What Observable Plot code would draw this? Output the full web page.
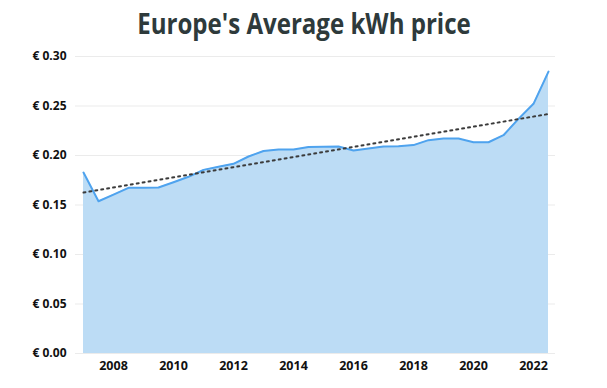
<!DOCTYPE html>
<html>
<head>
<meta charset="utf-8">
<script src="https://cdn.jsdelivr.net/npm/d3@7"></script>
<script src="https://cdn.jsdelivr.net/npm/@observablehq/plot@0.6"></script>
<style>
  html, body { margin: 0; padding: 0; background: #fff; }
  #title { height: 46px; width: 607px; text-align: center; font-family: "Open Sans", sans-serif; font-weight: 700; font-size: 29px; line-height: 46px; color: #2e3a3b; }
  #title span { display: inline-block; transform: scaleX(0.83); transform-origin: center; white-space: nowrap; }
  #chart svg { display: block; }
</style>
</head>
<body>
<div id="title"><span>Europe's Average kWh price</span></div>
<div id="chart"></div>
<script>
// Half-yearly periods (decimal years) and average price in EUR/kWh
const periods = [2007, 2007.5, 2008, 2008.5, 2009, 2009.5, 2010, 2010.5, 2011, 2011.5,
                 2012, 2012.5, 2013, 2013.5, 2014, 2014.5, 2015, 2015.5, 2016, 2016.5,
                 2017, 2017.5, 2018, 2018.5, 2019, 2019.5, 2020, 2020.5, 2021, 2021.5,
                 2022, 2022.5];
const prices = [0.1828, 0.1538, 0.1605, 0.1673, 0.1675, 0.1677, 0.1730, 0.1785, 0.1855, 0.1886,
                0.1916, 0.1990, 0.2046, 0.2061, 0.2061, 0.2085, 0.2088, 0.2091, 0.2051, 0.2070,
                0.2091, 0.2093, 0.2105, 0.2155, 0.2172, 0.2172, 0.2134, 0.2134, 0.2205, 0.2370,
                0.2522, 0.2848];
const yTicks = [0, 0.05, 0.10, 0.15, 0.20, 0.25, 0.30];
const xTicks = [2008, 2010, 2012, 2014, 2016, 2018, 2020, 2022];

const data = periods.map((p, i) => ({period: p, price: prices[i]}));

const chart = Plot.plot({
  width: 607,
  height: 342,
  marginLeft: 75,
  marginRight: 52,
  marginTop: 10,
  marginBottom: 35,
  style: {fontFamily: "Open Sans, sans-serif", background: "#fff"},
  x: {domain: [2007, 2022.5], insetLeft: 8, insetRight: 7},
  y: {domain: [0, 0.30]},
  marks: [
    Plot.gridY(yTicks, {stroke: "#ebebeb", strokeOpacity: 1, strokeWidth: 1}),
    Plot.areaY(data, {x: "period", y: "price", fill: "#bcdcf5"}),
    Plot.lineY(data, {x: "period", y: "price", stroke: "#4fa3ee", strokeWidth: 2}),
    Plot.linearRegressionY(data, {x: "period", y: "price", ci: 0, stroke: "#3a3a3a", strokeWidth: 2, strokeDasharray: "2,4"}),
    Plot.axisY(yTicks, {tickSize: 0, tickPadding: 9, label: null, tickFormat: d => "€ " + d.toFixed(2), fontSize: 12, fontWeight: "bold", fill: "#111"}),
    Plot.axisX(xTicks, {tickSize: 0, tickPadding: 8, label: null, tickFormat: d => String(d), fontSize: 12.5, fontWeight: "bold", fill: "#111"})
  ]
});
document.getElementById("chart").appendChild(chart);
</script>
</body>
</html>
